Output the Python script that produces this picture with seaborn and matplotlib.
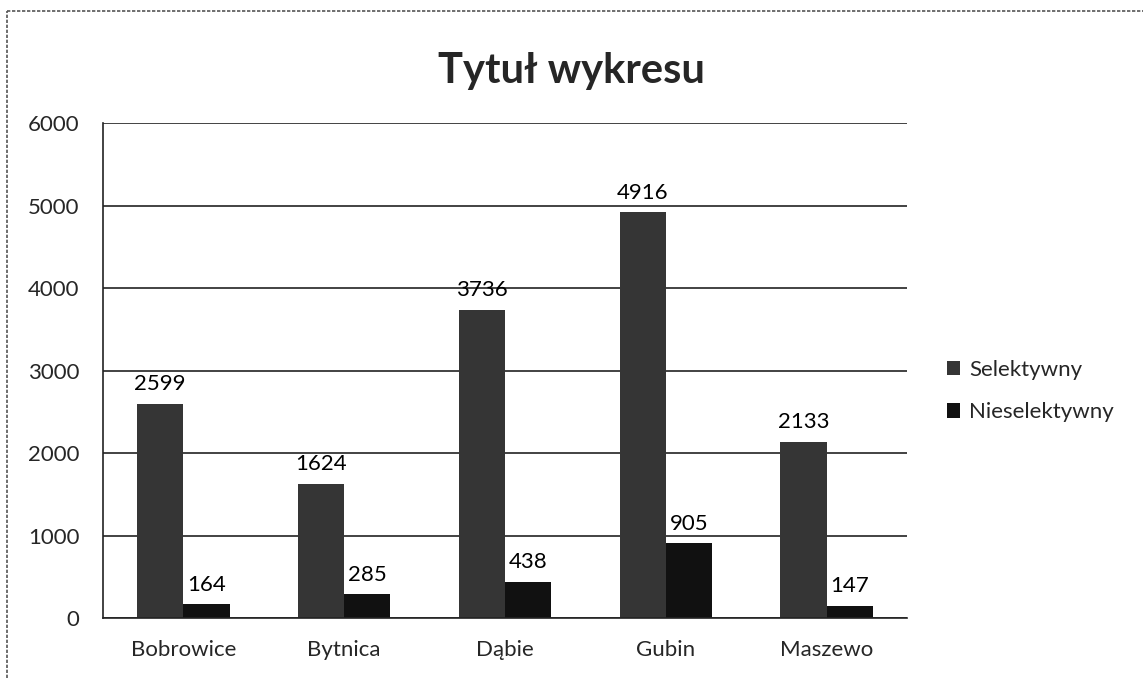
import matplotlib
matplotlib.use("Agg")
import matplotlib.pyplot as plt
import numpy as np, pandas as pd
import seaborn as sns
from matplotlib.lines import Line2D
from matplotlib.patches import Patch

categories = ["Bobrowice", "Bytnica", "Dąbie", "Gubin", "Maszewo"]
selektywny = [2599, 1624, 3736, 4916, 2133]
nieselektywny = [164, 285, 438, 905, 147]
series = ["Selektywny", "Nieselektywny"]
colors = ["#353535", "#111111"]

df = pd.DataFrame(dict(
    gmina=categories * 2,
    rodzaj=[series[0]] * len(categories) + [series[1]] * len(categories),
    wartosc=selektywny + nieselektywny,
))

sns.set_style("white")
plt.rcParams['font.family'] = ['Lato', 'DejaVu Sans']

fig = plt.figure(figsize=(11.43, 6.78), dpi=100)
ax = fig.add_axes([0.090, 0.0885, 0.7035, 0.730])

sns.barplot(data=df, x="gmina", y="wartosc", hue="rodzaj", order=categories,
            hue_order=series, palette=colors, width=0.575, saturation=1,
            linewidth=0, ax=ax, legend=False)

for cont in ax.containers:
    ax.bar_label(cont, fontsize=16, padding=7, color="black")

ax.set_ylim(0, 6000)
ax.set_yticks(range(0, 6001, 1000))
ax.set_xlim(-0.5, len(categories) - 0.5)
ax.grid(axis="y", color="#222222", linewidth=1.2)
ax.set_axisbelow(True)
for s in ["top", "right"]:
    ax.spines[s].set_visible(False)
for s in ["left", "bottom"]:
    ax.spines[s].set_color("#222222")
    ax.spines[s].set_linewidth(1.2)
ax.tick_params(axis="y", length=0, pad=17, labelsize=16)
ax.tick_params(axis="x", length=0, pad=16, labelsize=16)
ax.set_xlabel("")
ax.set_ylabel("")

fig.text(0.5, 0.895, "Tytuł wykresu", ha="center", va="center",
         fontsize=30, fontweight="bold")

handles = [Patch(facecolor=c, edgecolor="none") for c in colors]
fig.legend(handles, series, loc="center left", bbox_to_anchor=(0.811, 0.423),
           frameon=False, fontsize=16, handlelength=0.6, handleheight=0.6,
           handletextpad=0.4, labelspacing=1.0)

# chart border (partly cut off by the scan)
fig.add_artist(Line2D([7 / 1143, 7 / 1143], [0, 1 - 11 / 678],
                      transform=fig.transFigure, color="#555555", lw=1.2, ls=(0, (2, 1))))
fig.add_artist(Line2D([7 / 1143, 1], [1 - 11 / 678, 1 - 11 / 678],
                      transform=fig.transFigure, color="#555555", lw=1.2, ls=(0, (2, 1))))

fig.savefig("out.png", dpi=100)
